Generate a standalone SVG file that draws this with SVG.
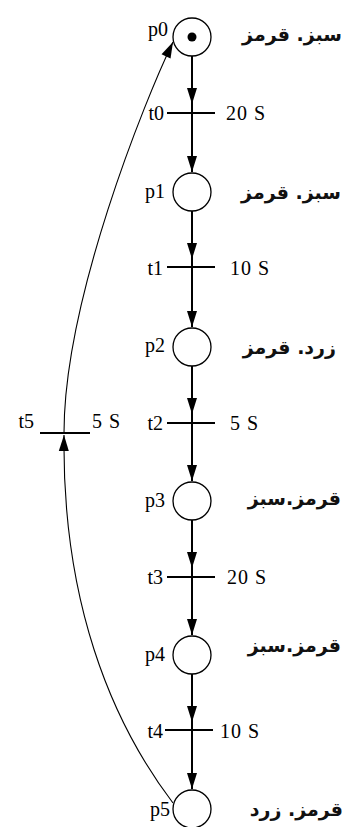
<svg xmlns="http://www.w3.org/2000/svg" width="348" height="827" viewBox="0 0 348 827">
<style>
.pl{fill:#fff;stroke:#000;stroke-width:1.3}
.bar{stroke:#000;stroke-width:2}
.arcm{fill:none;stroke:#000;stroke-width:2;marker-mid:url(#ah)}
.arce{fill:none;stroke:#000;stroke-width:2;marker-end:url(#ah)}
.thin{fill:none;stroke:#000;stroke-width:1.1;marker-end:url(#ah)}
.lb{font-family:"Liberation Serif","Times New Roman",serif;font-size:20px;fill:#000}
.nb{font-family:"Liberation Serif","Times New Roman",serif;font-size:20px;letter-spacing:1px;fill:#000}
.fa{font-family:"DejaVu Sans",sans-serif;font-size:19px;font-weight:bold;fill:#111}
</style>
<defs>
<marker id="ah" markerUnits="userSpaceOnUse" markerWidth="16" markerHeight="10" refX="16" refY="5" orient="auto" overflow="visible"><path d="M0,0 L16,5 L0,10 z" fill="#000"/></marker>
</defs>
<g id="connectors">
<path class="arcm" d="M192 56 L192 104 L192 113"/>
<path class="arce" d="M192 113 L192 172"/>
<path class="arcm" d="M192 211 L192 259 L192 267"/>
<path class="arce" d="M192 267 L192 327"/>
<path class="arcm" d="M192 366 L192 414 L192 423"/>
<path class="arce" d="M192 423 L192 481"/>
<path class="arcm" d="M192 520 L192 568 L192 577"/>
<path class="arce" d="M192 577 L192 635"/>
<path class="arcm" d="M192 674 L192 722 L192 730"/>
<path class="arce" d="M192 730 L192 789"/>
<path class="thin" d="M173 803 C110 720 62 600 64 435"/>
<path class="thin" d="M64 433 C64 300 145 100 173 42"/>
</g>
<g id="p0"><circle class="pl" cx="192" cy="37" r="19"/><circle cx="192" cy="37" r="4.5" fill="#000"/><text class="lb" x="168" y="36" text-anchor="end">p0</text><text class="fa" x="342" y="41" text-anchor="end">سبز. قرمز</text></g>
<g id="p1"><circle class="pl" cx="192" cy="192" r="19"/><text class="lb" x="165" y="198" text-anchor="end">p1</text><text class="fa" x="341" y="199" text-anchor="end">سبز. قرمز</text></g>
<g id="p2"><circle class="pl" cx="192" cy="347" r="19"/><text class="lb" x="165" y="352" text-anchor="end">p2</text><text class="fa" x="336" y="354" text-anchor="end">زرد. قرمز</text></g>
<g id="p3"><circle class="pl" cx="192" cy="501" r="19"/><text class="lb" x="165" y="507" text-anchor="end">p3</text><text class="fa" x="341" y="505" text-anchor="end">قرمز.سبز</text></g>
<g id="p4"><circle class="pl" cx="192" cy="655" r="19"/><text class="lb" x="165" y="661" text-anchor="end">p4</text><text class="fa" x="341" y="652" text-anchor="end">قرمز.سبز</text></g>
<g id="p5"><circle class="pl" cx="192" cy="809" r="19"/><text class="lb" x="170" y="816" text-anchor="end">p5</text><text class="fa" x="343" y="816" text-anchor="end">قرمز. زرد</text></g>
<g id="t0"><line class="bar" x1="167" y1="113" x2="215" y2="113"/><text class="lb" x="164" y="120" text-anchor="end">t0</text><text class="nb" x="226" y="120">20 S</text></g>
<g id="t1"><line class="bar" x1="167" y1="267" x2="215" y2="267"/><text class="lb" x="163" y="275" text-anchor="end">t1</text><text class="nb" x="230" y="275">10 S</text></g>
<g id="t2"><line class="bar" x1="167" y1="423" x2="215" y2="423"/><text class="lb" x="163" y="430" text-anchor="end">t2</text><text class="nb" x="230" y="430">5 S</text></g>
<g id="t3"><line class="bar" x1="167" y1="577" x2="215" y2="577"/><text class="lb" x="163" y="584" text-anchor="end">t3</text><text class="nb" x="227" y="584">20 S</text></g>
<g id="t4"><line class="bar" x1="165" y1="730" x2="213" y2="730"/><text class="lb" x="163" y="738" text-anchor="end">t4</text><text class="nb" x="220" y="738">10 S</text></g>
<g id="t5"><line class="bar" x1="40" y1="433" x2="90" y2="433"/><text class="lb" x="34" y="428" text-anchor="end">t5</text><text class="nb" x="92" y="428">5 S</text></g>
</svg>
